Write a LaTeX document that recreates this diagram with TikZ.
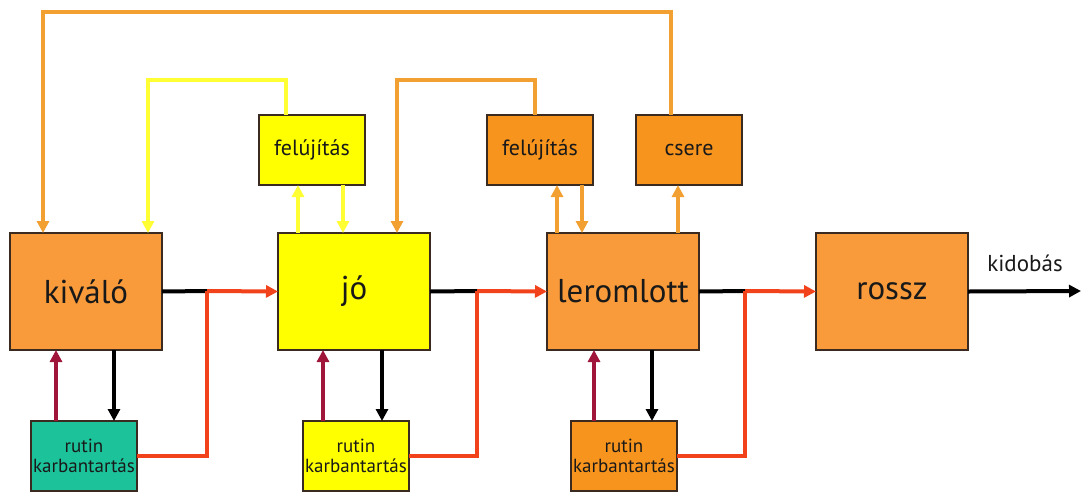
\documentclass[tikz,border=0pt]{standalone}
\usepackage{fontspec}
\setmainfont{PT Sans}
\usetikzlibrary{arrows.meta,calc}
\definecolor{orgbox}{HTML}{F99B3B}
\definecolor{orgdark}{HTML}{F7941D}
\definecolor{yel}{HTML}{FFFF00}
\definecolor{tealbox}{HTML}{1CC39A}
\definecolor{redl}{HTML}{F1421B}
\definecolor{dred}{HTML}{A0163A}
\definecolor{orgline}{HTML}{F3A033}
\definecolor{yelline}{HTML}{FFFF33}
\definecolor{edgec}{HTML}{3A2A20}
\newcommand{\rutintext}{\raisebox{-3pt}{\shortstack{rutin\\[3pt]karbantartás}}}
\begin{document}
\begin{tikzpicture}[x=1pt,y=-1pt,
  box/.style={draw=edgec, line width=1.3pt, inner sep=0pt, outer sep=0pt, anchor=north west, align=center, text=black!90},
  big/.style={box, minimum width=152pt, minimum height=117pt, font=\fontsize{33}{35}\selectfont},
  small/.style={box, minimum width=106pt, minimum height=70pt, font=\fontsize{22}{24}\selectfont},
  rut/.style={box, minimum width=106pt, minimum height=70pt, font=\fontsize{19}{20}\selectfont},
  tip/.style={-{Triangle[length=12pt,width=12pt]}},
  blk/.style={line width=4pt, black},
  redc/.style={line width=4pt, redl},
  drc/.style={line width=4pt, dred},
  orc/.style={line width=3.2pt, orgline},
  yec/.style={line width=3.2pt, yelline},
]
\useasboundingbox (0,0) rectangle (1081,491);
% boxes
\node[big, fill=orgbox] (kiv) at (10,233) {kiváló};
\node[big, fill=yel] (jo) at (278,233) {jó};
\node[big, fill=orgbox] (lr) at (547,233) {leromlott};
\node[big, fill=orgbox] (ros) at (816,233) {rossz};
\node[small, fill=yel] (f1) at (259,115) {felújítás};
\node[small, fill=orgdark] (f2) at (487,115) {felújítás};
\node[small, fill=orgdark] (cs) at (636,115) {csere};
\node[rut, fill=tealbox] (r1) at (31,421) {\rutintext};
\node[rut, fill=yel] (r2) at (303,421) {\rutintext};
\node[rut, fill=orgdark] (r3) at (571,421) {\rutintext};
\node[font=\fontsize{23}{25}\selectfont, text=black!90] (kid) at (1025,263) {kidobás};
% junction points
\coordinate (j1) at (207,291);
\coordinate (j2) at (477,291);
\coordinate (j3) at (745,291);
\coordinate (out) at (1081,291);
% main chain
\draw[blk] (kiv.east) -- (j1);
\draw[redc,tip] (j1) -- (jo.west);
\draw[redc] (r1.east) -| (j1);
\draw[blk] (jo.east) -- (j2);
\draw[redc,tip] (j2) -- (lr.west);
\draw[redc] (r2.east) -| (j2);
\draw[blk] (lr.east) -- (j3);
\draw[redc,tip] (j3) -- (ros.west);
\draw[redc] (r3.east) -| (j3);
\draw[blk,tip] (ros.east) -- (out);
% maintenance loops
\draw[drc,tip] (56,0 |- r1.north) -- (56,0 |- kiv.south);
\draw[blk,tip] (114,0 |- kiv.south) -- (114,0 |- r1.north);
\draw[drc,tip] (323,0 |- r2.north) -- (323,0 |- jo.south);
\draw[blk,tip] (382,0 |- jo.south) -- (382,0 |- r2.north);
\draw[drc,tip] (594,0 |- r3.north) -- (594,0 |- lr.south);
\draw[blk,tip] (652,0 |- lr.south) -- (652,0 |- r3.north);
% renovation / replacement
\draw[yec,tip] (298,0 |- jo.north) -- (298,0 |- f1.south);
\draw[yec,tip] (343,0 |- f1.south) -- (343,0 |- jo.north);
\draw[yec,tip] (286,0 |- f1.north) -- (286,80) -| (148,0 |- kiv.north);
\draw[orc,tip] (557,0 |- lr.north) -- (557,0 |- f2.south);
\draw[orc,tip] (582,0 |- f2.south) -- (582,0 |- lr.north);
\draw[orc,tip] (535,0 |- f2.north) -- (535,80) -| (397,0 |- jo.north);
\draw[orc,tip] (678,0 |- lr.north) -- (678,0 |- cs.south);
\draw[orc,tip] (671,0 |- cs.north) -- (671,12) -| (43,0 |- kiv.north);
\end{tikzpicture}
\end{document}
